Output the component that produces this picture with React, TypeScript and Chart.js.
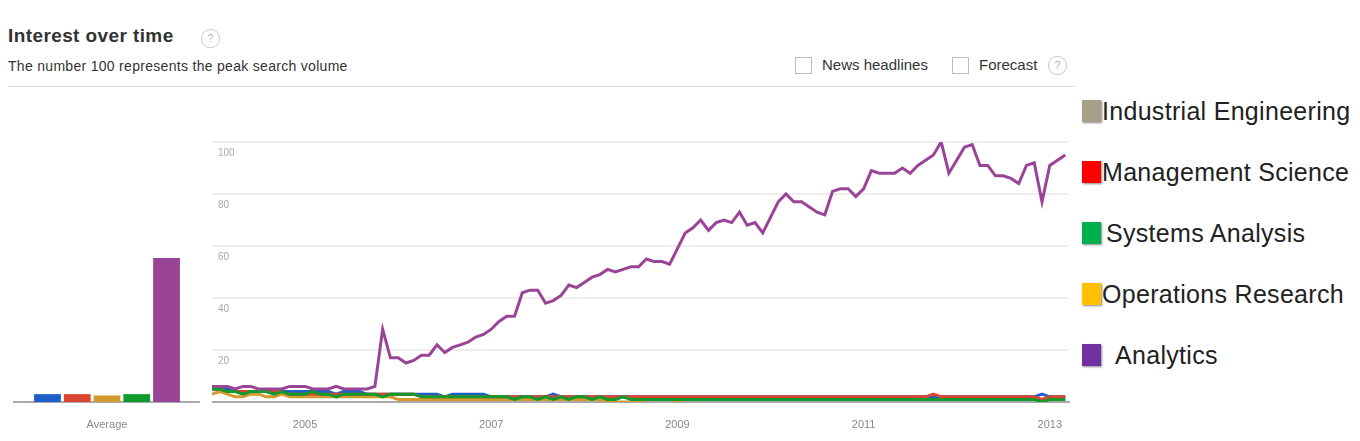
import { useEffect, useRef } from 'react'
import Chart from 'chart.js/auto'

// monthly index from Jan 2004
const purple = [6,6,6,5,6,6,5,5,5,5,6,6, 6,5,5,5,6,5,5,5,5,6,28,17, 17,15,16,18,18,22,19,21,22,23,25,26,
  28,31,33,33,42,43,43,38,39,41,45,44, 46,48,49,51,50,51,52,52,55,54,54,53,
  59,65,67,70,66,69,70,69,73,68,69,65, 71,77,80,77,77,75,73,72,81,82,82,79,
  82,89,88,88,88,90,88,91,93,95,100,88, 93,98,99,91,91,87,87,86,84,91,92,77, 91,93,95]
const blue = [5,5,5,4,4,4,4,4,4,4,4,4, 4,4,4,4,3,4,4,4,3,3,3,3, 3,3,3,3,3,3,2,3,3,3,3,3,
  2,2,2,2,2,2,2,2,3,2,2,2, 2,2,2,2,2,2,2,2,2,2,2,2, 2,2,2,2,2,2,2,2,2,2,2,2,
  2,2,2,2,2,2,2,2,2,2,2,2, 2,2,2,2,2,2,2,2,2,2,2,2, 2,2,2,2,2,2,2,2,2,2,2,3, 2,2,2]
const red = [5,5,4,4,4,4,4,4,4,4,3,3, 3,3,3,3,3,3,3,3,3,3,3,3, 3,3,3,2,2,2,2,2,2,2,2,2,
  2,2,2,2,2,2,2,2,2,2,2,2, 2,2,2,2,2,2,2,2,2,2,2,2, 2,2,2,2,2,2,2,2,2,2,2,2,
  2,2,2,2,2,2,2,2,2,2,2,2, 2,2,2,2,2,2,2,2,2,3,2,2, 2,2,2,2,2,2,2,2,2,2,2,1, 2,2,2]
const green = [5,5,4,4,3,4,4,4,3,4,3,3, 3,4,3,3,2,3,3,3,3,3,2,3, 3,3,3,2,2,2,2,2,2,2,2,2,
  2,2,2,1,2,2,1,2,1,2,1,2, 2,1,2,1,1,2,1,1,1,1,1,1, 1,1,1,1,1,1,1,1,1,1,1,1,
  1,1,1,1,1,1,1,1,1,1,1,1, 1,1,1,1,1,1,1,1,1,1,1,1, 1,1,1,1,1,1,1,1,1,1,1,0, 1,1,1]
const orange = [3,4,3,2,2,3,3,2,2,3,2,2, 2,2,2,2,2,2,2,2,2,2,2,2, 1,1,1,1,1,1,1,1,1,1,1,1,
  1,1,1,1,1,1,1,1,1,1,1,1, 1,1,1,0,0,0,0,0,1,1,1,1, 0,1,1,1,1,1,1,1,1,1,1,1,
  1,1,1,1,1,1,1,1,1,1,1,1, 1,1,1,1,1,1,1,1,1,1,1,1, 1,1,1,1,1,1,1,1,1,1,1,1, 1,1,1]
const averages = [3, 3, 2.5, 3, 55]
const seriesColors = ['#1c5fc9', '#dc4630', '#d39a30', '#109a2c', '#9a4497']
const drawOrder = [4, 2, 3, 1, 0]
const yearTicks = [12, 36, 60, 84, 108]
const yTicks = [0, 20, 40, 60, 80, 100]
const legendNames = ['Industrial Engineering', 'Management Science', 'Systems Analysis', 'Operations Research', 'Analytics']
const legendColors = ['#a89f8a', '#ff0000', '#00b050', '#ffc000', '#7030a0']

export default function App() {
  const lineRef = useRef<HTMLCanvasElement>(null)
  const barRef = useRef<HTMLCanvasElement>(null)

  useEffect(() => {
    if (!lineRef.current || !barRef.current) return
    const series = [blue, red, orange, green, purple]
    const line = new Chart(lineRef.current, {
      type: 'line',
      data: {
        datasets: series.map((s, k) => ({
          data: s.map((v, i) => ({ x: i, y: v })),
          borderColor: seriesColors[k],
          borderWidth: 3,
          pointRadius: 0,
          tension: 0,
          order: drawOrder[k],
        })),
      },
      options: {
        animation: false,
        responsive: false,
        layout: { padding: { top: 10, left: 0, right: 0, bottom: 0 } },
        plugins: { legend: { display: false }, tooltip: { enabled: false } },
        scales: {
          x: {
            type: 'linear', min: 0, max: 110.5,
            afterBuildTicks: (s) => { s.ticks = yearTicks.map((v) => ({ value: v })) },
            afterFit: (s) => { s.height = 28 },
            ticks: { color: '#888', font: { family: 'Arial', size: 11 }, callback: (v) => String(2004 + Number(v) / 12), maxRotation: 0, padding: 8 },
            grid: { display: false },
            border: { color: '#aaa', width: 2 },
          },
          y: {
            min: 0, max: 100,
            afterBuildTicks: (s) => { s.ticks = yTicks.map((v) => ({ value: v })) },
            afterFit: (s) => { s.width = 0 },
            ticks: { mirror: true, labelOffset: 11, padding: 6, color: '#aaa', font: { family: 'Arial', size: 10 }, callback: (v) => (v === 0 ? '' : String(v)) },
            grid: { color: '#eeeeee', lineWidth: 2 },
            border: { display: false },
          },
        },
      },
    })
    const bar = new Chart(barRef.current, {
      type: 'bar',
      data: {
        labels: ['Average'],
        datasets: averages.map((v, k) => ({ data: [v], backgroundColor: seriesColors[k] })),
      },
      options: {
        animation: false,
        responsive: false,
        layout: { padding: { top: 10, left: 6 } },
        plugins: { legend: { display: false }, tooltip: { enabled: false } },
        scales: {
          x: {
            categoryPercentage: 0.56, barPercentage: 0.9,
            afterFit: (s) => { s.height = 28 },
            ticks: { color: '#888', font: { family: 'Arial', size: 11 }, padding: 8 },
            grid: { display: false },
            border: { color: '#aaa', width: 2 },
          },
          y: { min: 0, max: 100, display: false },
        },
      },
    })
    return () => { line.destroy(); bar.destroy() }
  }, [])

  const font = 'Arial, "Liberation Sans", sans-serif'
  const qmark = (left: number, top: number) => (
    <div style={{ position: 'absolute', left, top, width: 17, height: 17, borderRadius: 9, border: '1px solid #ccc', color: '#bbb', fontSize: 11, textAlign: 'center', lineHeight: '17px' }}>?</div>
  )
  const box = (left: number) => (
    <div style={{ position: 'absolute', left, top: 57, width: 15, height: 15, border: '1px solid #bbb', background: '#fff' }} />
  )
  return (
    <div style={{ position: 'absolute', left: 0, top: 0, width: 1360, height: 441, background: '#fff', fontFamily: font, overflow: 'hidden' }}>
      <div style={{ position: 'absolute', left: 8, top: 25, fontSize: 19, fontWeight: 'bold', color: '#333', letterSpacing: 0.4 }}>Interest over time</div>
      {qmark(201, 29)}
      <div style={{ position: 'absolute', left: 8, top: 58, fontSize: 14, color: '#333', letterSpacing: 0.3 }}>The number 100 represents the peak search volume</div>
      {box(795)}
      <div style={{ position: 'absolute', left: 822, top: 56, fontSize: 15, color: '#333' }}>News headlines</div>
      {box(952)}
      <div style={{ position: 'absolute', left: 979, top: 56, fontSize: 15, color: '#333' }}>Forecast</div>
      {qmark(1048, 56)}
      <div style={{ position: 'absolute', left: 8, top: 86, width: 1067, height: 1, background: '#ddd' }} />
      <canvas ref={barRef} width={192} height={300} style={{ position: 'absolute', left: 8, top: 130 }} />
      <canvas ref={lineRef} width={858} height={300} style={{ position: 'absolute', left: 212, top: 130 }} />
      {legendNames.map((n, k) => (
        <div key={n} style={{ position: 'absolute', left: 1082, top: 97 + k * 61, height: 28, display: 'flex', alignItems: 'center' }}>
          <div style={{ width: 19, height: 22, background: legendColors[k], boxShadow: '1px 1px 2px #888' }} />
          <div style={{ marginLeft: k === 2 ? 5 : k === 4 ? 14 : 1, fontSize: 25, color: '#222', whiteSpace: 'nowrap', letterSpacing: 0.3 }}>{n}</div>
        </div>
      ))}
    </div>
  )
}
